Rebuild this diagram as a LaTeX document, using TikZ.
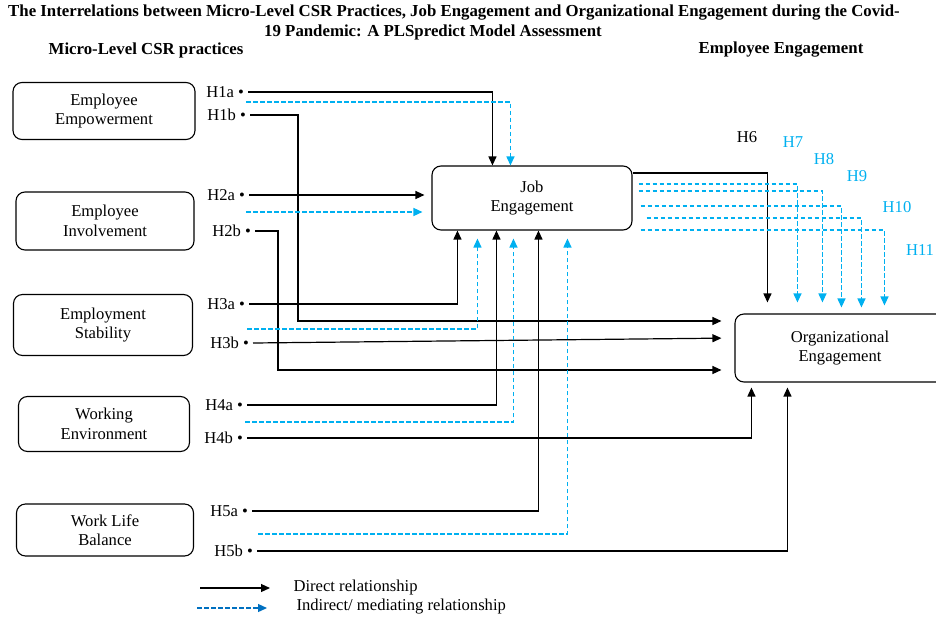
\documentclass[tikz,border=0pt]{standalone}
\usepackage{fontspec}
\setmainfont{Liberation Serif}
\usetikzlibrary{arrows.meta}
\definecolor{skyline}{RGB}{0,176,240}
\definecolor{legendblue}{RGB}{0,112,192}

\begin{document}
\begin{tikzpicture}[x=1pt, y=1pt, line width=1.2pt,
        box node/.style={draw, rounded corners=9pt, line width=1.1pt, align=center, font=\fontsize{16.6}{19.5}\selectfont},
        hyp node/.style={inner sep=0pt, outer sep=4pt, anchor=east, font=\fontsize{16.6}{19.5}\selectfont},
        text node/.style={inner sep=0pt, font=\fontsize{16.6}{19.5}\selectfont},
        head node/.style={inner sep=0pt, font=\fontsize{16.8}{19.5}\selectfont\bfseries},
        direct/.style={-{Triangle[length=9pt,width=8pt]}},
        indirect/.style={skyline, line width=1.3pt, dash pattern=on 4.5pt off 2.5pt, -{Triangle[length=9pt,width=8pt]}}]
    \useasboundingbox (0,0) rectangle (936,-618);
    % titles
    \node[head node] (title1) at (454,-13) {The Interrelations between Micro-Level CSR Practices, Job Engagement and Organizational Engagement during the Covid-};
    \node[head node] (title2) at (433,-32) {19 Pandemic: A PLSpredict Model Assessment};
    \node[head node] (csr) at (146,-50) {Micro-Level CSR practices};
    \node[head node] (eng) at (781,-50) {Employee Engagement};
    % constructs
    \node[box node, minimum width=182pt, minimum height=57pt] (emp) at (104,-111) {Employee\\Empowerment};
    \node[box node, minimum width=178pt, minimum height=58pt] (inv) at (105,-221) {Employee\\Involvement};
    \node[box node, minimum width=179pt, minimum height=61pt] (stab) at (103,-325) {Employment\\Stability};
    \node[box node, minimum width=171pt, minimum height=55pt] (env) at (104,-424) {Working\\Environment};
    \node[box node, minimum width=177pt, minimum height=52pt] (wlb) at (105,-530) {Work Life\\Balance};
    \node[box node, minimum width=200pt, minimum height=64pt] (job) at (532,-198) {Job\\Engagement};
    \node[box node, minimum width=210pt, minimum height=68pt] (org) at (840,-348) {Organizational\\Engagement};
    % hypotheses
    \node[hyp node] (h1a) at (248,-92) {H1a •};
    \node[hyp node] (h1b) at (250,-115) {H1b •};
    \node[hyp node] (h2a) at (249,-195) {H2a •};
    \node[hyp node] (h2b) at (255,-231) {H2b •};
    \node[hyp node] (h3a) at (249,-304) {H3a •};
    \node[hyp node] (h3b) at (253,-343) {H3b •};
    \node[hyp node] (h4a) at (247,-405) {H4a •};
    \node[hyp node] (h4b) at (247,-438) {H4b •};
    \node[hyp node] (h5a) at (252,-511) {H5a •};
    \node[hyp node] (h5b) at (257,-551) {H5b •};
    \node[text node] (h6) at (747,-137) {H6};
    \node[text node, skyline] (h7) at (793,-142) {H7};
    \node[text node, skyline] (h8) at (824,-159) {H8};
    \node[text node, skyline] (h9) at (857,-176) {H9};
    \node[text node, skyline] (h10) at (897,-207) {H10};
    \node[text node, skyline] (h11) at (920,-250) {H11};
    \coordinate (m1) at (246,-102);
    \coordinate (m2) at (246,-212);
    \coordinate (m3) at (247,-329);
    \coordinate (m4) at (245,-422);
    \coordinate (m5) at (258,-534);
    \coordinate (b1) at (298,-321);
    \coordinate (b2) at (278,-370);
    % direct paths
    \draw[direct] (h1a.east) -| ([xshift=61pt]job.north west);
    \draw[direct, shorten >=13pt] (h1b.east) -| (b1) -- (b1 -| org.west);
    \draw[direct, shorten >=7pt] (h2a.east) -- (h2a.east -| job.west);
    \draw[direct, shorten >=13pt] (h2b.east) -| (b2) -- (b2 -| org.west);
    \draw[direct] (h3a.east) -| ([xshift=26pt]job.south west);
    \draw[direct, shorten >=13pt] (h3b.east) -- ([yshift=10pt]org.west);
    \draw[direct] (h4a.east) -| ([xshift=65pt]job.south west);
    \draw[direct, shorten >=5pt] (h4b.east) -| ([xshift=17pt]org.south west);
    \draw[direct] (h5a.east) -| ([xshift=107pt]job.south west);
    \draw[direct, shorten >=5pt] (h5b.east) -| ([xshift=53pt]org.south west);
    \draw[direct, shorten >=11pt] ([yshift=25pt]job.east) -| ([xshift=33pt]org.north west);
    % mediating paths
    \draw[indirect] (m1) -| ([xshift=79pt]job.north west);
    \draw[indirect, shorten >=9pt] (m2) -- (m2 -| job.west);
    \draw[indirect, shorten >=8pt] (m3) -| ([xshift=46pt]job.south west);
    \draw[indirect, shorten >=8pt] (m4) -| ([xshift=82pt]job.south west);
    \draw[indirect, shorten >=8pt] (m5) -| ([xshift=136pt]job.south west);
    \draw[indirect, shorten <=6pt, shorten >=11pt] ([yshift=14pt]job.east) -| ([xshift=63pt]org.north west);
    \draw[indirect, shorten <=6pt, shorten >=11pt] ([yshift=7pt]job.east) -| ([xshift=88pt]org.north west);
    \draw[indirect, shorten <=8pt, shorten >=6pt] ([yshift=-8pt]job.east) -| ([xshift=107pt]org.north west);
    \draw[indirect, shorten <=14pt, shorten >=6pt] ([yshift=-20pt]job.east) -| ([xshift=127pt]org.north west);
    \draw[indirect, shorten <=8pt, shorten >=8pt] ([yshift=-32pt]job.east) -| ([xshift=150pt]org.north west);
    % legend
    \coordinate (l1) at (200,-588);
    \coordinate (l2) at (270,-588);
    \coordinate (l3) at (197,-608);
    \coordinate (l4) at (267,-608);
    \draw[direct] (l1) -- (l2);
    \draw[indirect, legendblue] (l3) -- (l4);
    \node[text node, anchor=west] (lg1) at (293,-587) {Direct relationship};
    \node[text node, anchor=west] (lg2) at (296,-607) {Indirect/ mediating relationship};
\end{tikzpicture}
\end{document}
